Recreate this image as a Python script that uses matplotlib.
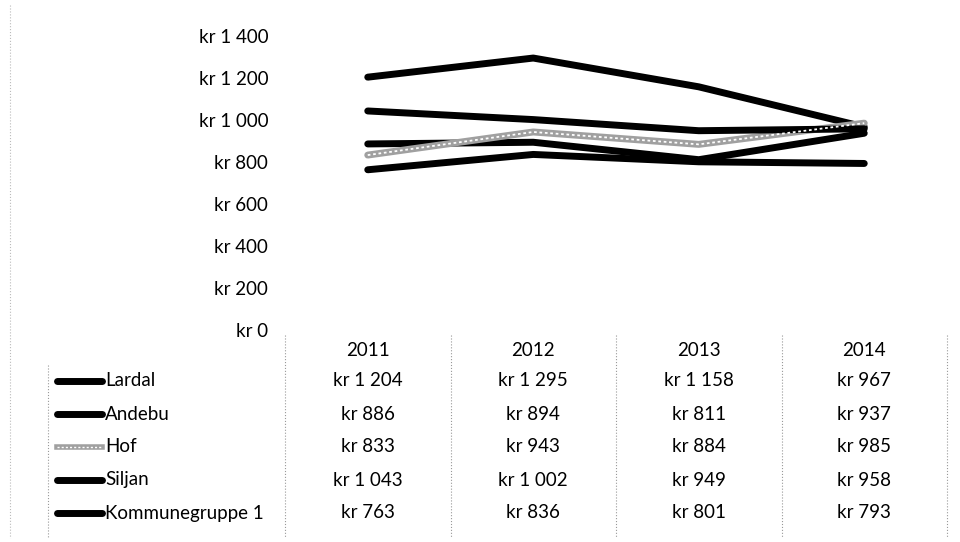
import numpy as np
import matplotlib.pyplot as plt

years = ['2011', '2012', '2013', '2014']
names = ['Lardal', 'Andebu', 'Hof', 'Siljan', 'Kommunegruppe 1']
lardal = [1204, 1295, 1158, 967]
andebu = [886, 894, 811, 937]
hof = [833, 943, 884, 985]
siljan = [1043, 1002, 949, 958]
kgr1 = [763, 836, 801, 793]
series = [lardal, andebu, hof, siljan, kgr1]
yticks = [0, 200, 400, 600, 800, 1000, 1200, 1400]

plt.rcParams['font.family'] = ['Lato', 'DejaVu Sans']
FS = 13.5

W, H = 960, 542
fig = plt.figure(figsize=(W / 100, H / 100), dpi=100)


def kr(v):
    s = f'{v:,}'.replace(',', ' ')
    return 'kr ' + s


# pixel layout
x0, x1 = 285, 947
y_top, y_bot = 36, 330
ax = fig.add_axes([x0 / W, 1 - y_bot / H, (x1 - x0) / W, (y_bot - y_top) / H])
xs = np.arange(len(years)) + 0.5
for name, vals in zip(names, series):
    if name == 'Hof':
        ax.plot(xs, vals, color='#a0a0a0', lw=5, solid_capstyle='round', zorder=3)
        ax.plot(xs, vals, color='white', lw=1.3, ls=(0, (1.5, 1.5)), zorder=4)
    else:
        ax.plot(xs, vals, color='black', lw=5, solid_capstyle='round', zorder=3)
ax.set_xlim(0, len(years))
ax.set_ylim(0, 1400)
ax.set_yticks(yticks)
ax.set_yticklabels([kr(v) for v in yticks], fontsize=FS)
ax.set_xticks([])
ax.tick_params(axis='y', length=0, pad=12)
for s in ax.spines.values():
    s.set_visible(False)

# data table underneath
tab = fig.add_axes([0, 0, 1, 1], zorder=-1)
tab.set_xlim(0, W)
tab.set_ylim(H, 0)
tab.axis('off')
colw = (x1 - x0) / len(years)
head_y = 350
row_y0, row_h = 381, 33
for i, yr in enumerate(years):
    tab.text(x0 + colw * (i + 0.5), head_y, yr, ha='center', va='center', fontsize=FS)
for r, (name, vals) in enumerate(zip(names, series)):
    y = row_y0 + r * row_h
    if name == 'Hof':
        tab.plot([57, 102], [y, y], color='#a0a0a0', lw=4)
        tab.plot([57, 102], [y, y], color='white', lw=1, ls=(0, (1.5, 1.5)))
    else:
        tab.plot([57, 102], [y, y], color='black', lw=5, solid_capstyle='round')
    tab.text(105, y, name, ha='left', va='center', fontsize=FS)
    for i, v in enumerate(vals):
        tab.text(x0 + colw * (i + 0.5), y, kr(v), ha='center', va='center', fontsize=FS)

# faint dotted grid of the table
for i in range(len(years) + 1):
    xv = x0 + colw * i
    tab.plot([xv, xv], [335, 538], color='#999999', lw=0.8, ls=':')
tab.plot([48, 48], [365, 538], color='#999999', lw=0.8, ls=':')
tab.plot([10, 10], [5, 538], color='#bbbbbb', lw=0.8, ls=':')

fig.savefig('out.png', dpi=100, facecolor='white')
